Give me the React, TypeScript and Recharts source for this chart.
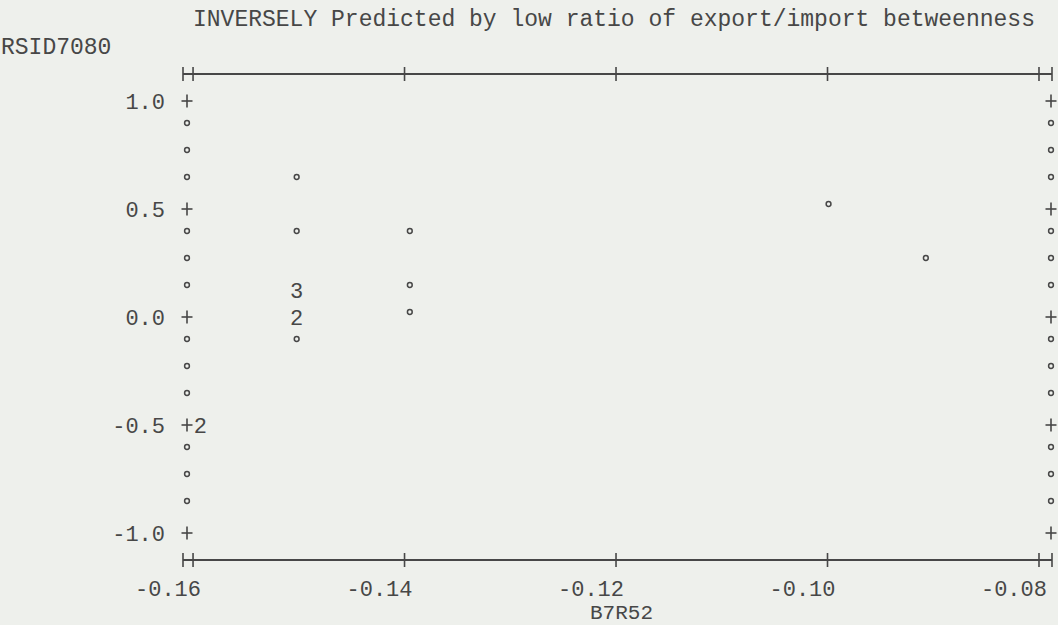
import { ScatterChart, Scatter, XAxis, YAxis, ReferenceLine } from 'recharts';

// scatter cells (n = count printed in the cell)
const xValues = [-0.1502, -0.1502, -0.1502, -0.1502, -0.1502, -0.1395, -0.1395, -0.1395, -0.0999, -0.0907, -0.1593];
const yValues = [0.625, 0.375, 0.125, 0, -0.125, 0.375, 0.125, 0, 0.5, 0.25, -0.5];
const counts = [1, 1, 3, 2, 1, 1, 1, 1, 1, 1, 2];

const xTickLabels = [-0.16, -0.14, -0.12, -0.1, -0.08];
const yTickLabels = [-1, -0.5, 0, 0.5, 1];
// one row per printed character line
const yRows = [-1, -0.875, -0.75, -0.625, -0.5, -0.375, -0.25, -0.125, 0, 0.125, 0.25, 0.375, 0.5, 0.625, 0.75, 0.875, 1];

const X_MIN = -0.16095;
const X_MAX = -0.07877;
const Y_MIN = -1.125;
const Y_MAX = 1.125;

const FRAME_TOP = 74;
const FRAME_BOTTOM = 560;
const COL_LEFT = 187;
const COL_RIGHT = 1051;
const INK = '#474747';
const MONO = '"Liberation Mono", "DejaVu Sans Mono", monospace';

const data = xValues.map((x, i) => ({ x, y: yValues[i], n: counts[i] }));

const Ring = ({ x, y }: { x: number; y: number }) => (
  <circle cx={x} cy={y - 5} r={2.4} fill="none" stroke={INK} strokeWidth={1.5} />
);

const Plus = ({ x, y }: { x: number; y: number }) => (
  <g stroke={INK} strokeWidth={1.6}>
    <line x1={x - 5.5} x2={x + 5.5} y1={y} y2={y} />
    <line x1={x} x2={x} y1={y - 6.5} y2={y + 6.5} />
  </g>
);

const XTick = (props: any) => {
  const { x, payload } = props;
  const v = payload.value;
  const labeled = xTickLabels.some((t) => Math.abs(t - v) < 1e-9);
  return (
    <g>
      <line x1={x} x2={x} y1={FRAME_TOP - 7} y2={FRAME_TOP + 7} stroke={INK} strokeWidth={1.6} />
      <line x1={x} x2={x} y1={FRAME_BOTTOM - 7} y2={FRAME_BOTTOM + 7} stroke={INK} strokeWidth={1.6} />
      {labeled && (
        <text x={x + 8} y={596} textAnchor="end" fontFamily={MONO} fontSize={22} fill={INK}>
          {v.toFixed(2)}
        </text>
      )}
    </g>
  );
};

const YTick = (props: any) => {
  const { y, payload } = props;
  const v = payload.value;
  const labeled = yTickLabels.some((t) => Math.abs(t - v) < 1e-9);
  if (!labeled) {
    return (
      <g>
        <Ring x={COL_LEFT} y={y} />
        <Ring x={COL_RIGHT} y={y} />
      </g>
    );
  }
  return (
    <g>
      <text x={165} y={y} dy="0.36em" textAnchor="end" fontFamily={MONO} fontSize={22} fill={INK}>
        {v.toFixed(1)}
      </text>
      <Plus x={COL_LEFT} y={y} />
      <Plus x={COL_RIGHT} y={y} />
    </g>
  );
};

const PointMark = (props: any) => {
  const { cx, cy, payload } = props;
  if (payload.n > 1) {
    return (
      <text x={cx} y={cy} dy="0.36em" textAnchor="middle" fontFamily={MONO} fontSize={22} fill={INK}>
        {payload.n}
      </text>
    );
  }
  return <Ring x={cx} y={cy} />;
};

export default function App() {
  return (
    <div style={{ position: 'absolute', left: 0, top: 0, width: 1058, height: 625, background: '#eef0ec', overflow: 'hidden' }}>
      <div style={{ position: 'absolute', left: 193, top: 8, fontFamily: MONO, fontSize: 23, lineHeight: '24px', color: INK, whiteSpace: 'nowrap' }}>
        INVERSELY Predicted by low ratio of export/import betweenness
      </div>
      <div style={{ position: 'absolute', left: 1, top: 36, fontFamily: MONO, fontSize: 23, lineHeight: '24px', color: INK, whiteSpace: 'nowrap' }}>
        RSID7080
      </div>
      <div style={{ position: 'absolute', left: 590, top: 605, fontFamily: MONO, fontSize: 21, lineHeight: '18px', color: INK, whiteSpace: 'nowrap' }}>
        B7R52
      </div>
      <div style={{ position: 'absolute', left: 0, top: 0 }}>
        <ScatterChart width={1058} height={625} margin={{ top: FRAME_TOP, right: 6, bottom: 5, left: 0 }}>
          <XAxis
            type="number"
            dataKey="x"
            domain={[X_MIN, X_MAX]}
            allowDataOverflow
            ticks={[X_MIN, ...xTickLabels, X_MAX]}
            interval={0}
            tickLine={false}
            axisLine={{ stroke: INK, strokeWidth: 1.8 }}
            tick={XTick}
            height={60}
          />
          <YAxis
            type="number"
            dataKey="y"
            domain={[Y_MIN, Y_MAX]}
            allowDataOverflow
            ticks={yRows}
            interval={0}
            tickLine={false}
            axisLine={false}
            tick={YTick}
            width={183}
          />
          <ReferenceLine y={Y_MAX} stroke={INK} strokeWidth={1.8} />
          <Scatter data={data} shape={PointMark} isAnimationActive={false} />
        </ScatterChart>
      </div>
    </div>
  );
}
